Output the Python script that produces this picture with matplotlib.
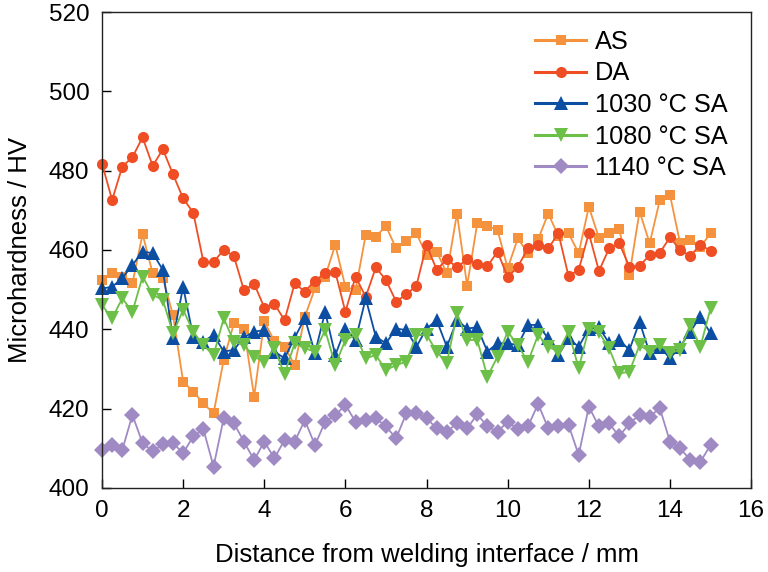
import matplotlib
matplotlib.use("Agg")
import matplotlib.pyplot as plt

plt.rcParams['font.family'] = ['Liberation Sans', 'DejaVu Sans']

distance = [0, 0.25, 0.5, 0.75, 1, 1.25, 1.5, 1.75, 2, 2.25, 2.5, 2.75, 3, 3.25, 3.5, 3.75,
            4, 4.25, 4.5, 4.75, 5, 5.25, 5.5, 5.75, 6, 6.25, 6.5, 6.75, 7, 7.25, 7.5, 7.75,
            8, 8.25, 8.5, 8.75, 9, 9.25, 9.5, 9.75, 10, 10.25, 10.5, 10.75, 11, 11.25, 11.5, 11.75,
            12, 12.25, 12.5, 12.75, 13, 13.25, 13.5, 13.75, 14, 14.25, 14.5, 14.75, 15]

hv_as = [452.4, 454.1, 453.3, 451.6, 464.0, 454.1, 452.9, 443.6, 426.8, 424.3, 421.3, 418.8,
         432.3, 441.5, 440.2, 423.0, 442.0, 437.0, 435.6, 431.0, 443.2, 450.3, 453.3, 461.3,
         450.7, 449.9, 463.8, 463.4, 466.0, 460.4, 462.3, 464.2, 458.7, 459.6, 454.1, 469.2,
         451.0, 466.7, 466.1, 465.0, 455.4, 462.9, 459.2, 462.7, 469.2, 463.5, 464.2, 459.2,
         470.9, 463.0, 464.2, 465.2, 453.7, 469.7, 461.7, 472.6, 473.9, 461.7, 462.5, 460.8, 464.2]

hv_da = [481.8, 472.6, 481.0, 483.4, 488.4, 481.2, 485.4, 479.1, 473.0, 469.4, 457.0, 457.0,
         460.0, 458.5, 449.8, 451.5, 445.5, 446.4, 442.3, 451.6, 449.5, 452.3, 454.1, 454.5,
         444.4, 453.3, 448.2, 455.6, 452.4, 447.0, 448.8, 451.0, 461.3, 455.0, 457.7, 455.6,
         457.7, 456.4, 455.9, 459.6, 453.1, 455.8, 460.4, 461.3, 460.4, 464.2, 453.4, 455.0,
         464.2, 454.7, 460.4, 461.7, 455.8, 456.0, 458.7, 459.3, 463.2, 460.0, 458.5, 461.3, 459.8]

hv_1030 = [450.3, 450.7, 452.9, 456.2, 459.6, 459.2, 455.0, 437.7, 450.7, 438.1, 436.9, 438.6,
           434.4, 434.8, 438.0, 439.4, 439.8, 434.4, 432.7, 437.9, 442.8, 434.0, 444.4, 433.5,
           440.2, 437.3, 447.8, 438.1, 436.5, 440.2, 439.8, 435.6, 440.2, 442.3, 435.6, 442.3,
           440.2, 440.5, 434.4, 436.5, 436.5, 436.0, 441.1, 441.1, 437.7, 433.5, 437.7, 435.6,
           440.2, 440.5, 436.5, 437.3, 434.8, 441.9, 434.0, 435.6, 432.7, 435.6, 439.4, 443.2, 439.0]

hv_1080 = [446.1, 442.8, 447.8, 444.4, 453.3, 448.7, 447.4, 439.0, 444.9, 439.4, 436.0, 433.5,
           442.8, 436.9, 436.0, 433.1, 431.8, 435.2, 428.7, 436.5, 435.2, 434.4, 439.8, 431.0,
           437.3, 438.6, 432.7, 433.5, 429.7, 431.0, 431.8, 438.6, 438.6, 434.4, 431.4, 444.0,
           437.3, 437.3, 428.1, 433.1, 439.4, 436.0, 431.8, 438.6, 435.6, 434.4, 439.4, 430.2,
           440.2, 439.2, 435.2, 428.9, 429.3, 436.0, 434.4, 436.0, 434.0, 434.8, 441.1, 435.6, 445.3]

hv_1140 = [409.6, 410.8, 409.6, 418.4, 411.3, 409.2, 411.0, 411.3, 408.8, 413.0, 414.8, 405.4,
           417.6, 416.3, 411.7, 407.0, 411.7, 407.5, 412.1, 411.7, 417.1, 410.8, 416.7, 418.4,
           420.9, 416.7, 417.1, 417.6, 415.5, 412.5, 418.8, 418.8, 417.6, 415.0, 414.2, 416.3,
           415.0, 418.6, 415.5, 414.2, 416.7, 414.8, 415.5, 421.2, 415.0, 415.5, 415.9, 408.3,
           420.5, 415.5, 416.3, 413.0, 416.3, 418.4, 418.0, 420.1, 411.7, 410.0, 407.1, 406.6, 410.8]

labels = ['AS', 'DA', '1030 °C SA', '1080 °C SA', '1140 °C SA']
colors = ['#F5923E', '#EF4E24', '#0B4EA2', '#6CBF47', '#A08AC4']
markers = ['s', 'o', '^', 'v', 'D']
msizes = [7.2, 8.0, 9.5, 9.5, 8.0]
series = [hv_as, hv_da, hv_1030, hv_1080, hv_1140]

xticks = [0, 2, 4, 6, 8, 10, 12, 14, 16]
yticks = [400, 420, 440, 460, 480, 500, 520]

fig = plt.figure(figsize=(7.68, 5.72), dpi=100)
ax = fig.add_axes([0.1328, 0.1469, 0.8452, 0.8321])

for vals, lab, c, m, ms in zip(series, labels, colors, markers, msizes):
    ax.plot(distance, vals, color=c, marker=m, markersize=ms, linewidth=1.3,
            markeredgewidth=0, label=lab, clip_on=False)

ax.set_xlim(0, 16)
ax.set_ylim(400, 520)
ax.set_xticks(xticks)
ax.set_yticks(yticks)
ax.tick_params(direction='in', length=6.5, width=1.0, labelsize=17.5, pad=9,
               top=False, right=False)
for s in ax.spines.values():
    s.set_linewidth(1.0)
    s.set_color('#222222')

ax.set_xlabel('Distance from welding interface / mm', fontsize=18.5, labelpad=15)
ax.set_ylabel('Microhardness / HV', fontsize=18.5, labelpad=12)

leg = ax.legend(loc='upper left', bbox_to_anchor=(0.64, 1.0), frameon=False,
                fontsize=18.3, handlelength=2.0, handletextpad=0.35, labelspacing=0.3,
                numpoints=1, borderpad=0.2)
for ln in leg.get_lines():
    ln.set_linewidth(2.2)

fig.savefig('out.png', dpi=100)
